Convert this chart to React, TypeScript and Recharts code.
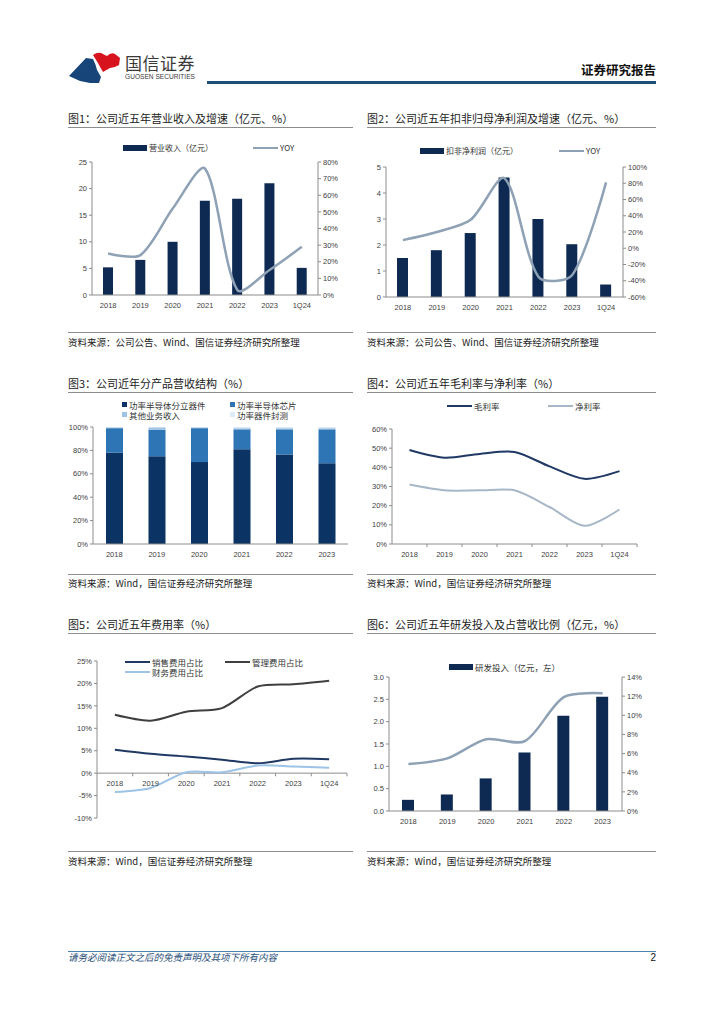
import React from "react";
import {
  Bar,
  BarChart,
  ComposedChart,
  Line,
  LineChart,
  ReferenceDot,
  ReferenceLine,
  XAxis,
  YAxis,
} from "recharts";

// ---- data ----
const years7 = ["2018", "2019", "2020", "2021", "2022", "2023", "1Q24"];
const years6 = ["2018", "2019", "2020", "2021", "2022", "2023"];

// fig 1
const revenue = [5.2, 6.6, 10.0, 17.7, 18.1, 21.0, 5.1];
const revenueYoy = [25, 24, 52, 76, 3, 15, 29];

// fig 2
const netProfit = [1.5, 1.8, 2.46, 4.6, 3.0, 2.03, 0.48];
const netProfitYoy = [10, 20, 35, 86, -35, -33, 81];

// fig 3
const discrete = [78, 75, 70, 81, 76.5, 69];
const chip = [21, 22.7, 29, 17, 21.5, 29];
const otherBiz = [0.7, 2, 0.7, 1, 1, 1];
const packaging = [0.3, 0.3, 0.3, 1, 1, 1];

// fig 4
const grossMargin = [49, 45, 47, 48, 40.5, 34, 38];
const netMargin = [31, 28, 28, 28, 19.3, 9.5, 18];

// fig 5
const sellingRate = [5.2, 4.3, 3.7, 3.0, 2.2, 3.2, 3.1];
const adminRate = [13.0, 11.7, 13.7, 14.5, 19.3, 19.8, 20.6];
const financeRate = [-4.2, -3.3, 0.2, 0.2, 1.7, 1.5, 1.2];

// fig 6
const rdSpend = [0.25, 0.37, 0.73, 1.31, 2.13, 2.56];
const rdRatio = [4.9, 5.5, 7.5, 7.3, 11.9, 12.3];

const fig1 = years7.map((name, i) => ({ name, revenue: revenue[i], yoy: revenueYoy[i] }));
const fig2 = years7.map((name, i) => ({ name, profit: netProfit[i], yoy: netProfitYoy[i] }));
const fig3 = years6.map((name, i) => ({
  name,
  discrete: discrete[i],
  chip: chip[i],
  other: otherBiz[i],
  pack: packaging[i],
}));
const fig4 = years7.map((name, i) => ({ i, name, gross: grossMargin[i], net: netMargin[i] }));
const fig5 = years7.map((name, i) => ({
  i,
  name,
  selling: sellingRate[i],
  admin: adminRate[i],
  finance: financeRate[i],
}));
const fig6 = years6.map((name, i) => ({ name, rd: rdSpend[i], ratio: rdRatio[i] }));

const bounds7 = years7.map((_, i) => i + 0.5);

// excel-like smoothed line: catmull-rom tangents, control arms scaled by
// neighbouring segment lengths so steep drops don't overshoot much
const SMOOTH = 0.28;
function ExcelCurve(this: any, context: any) {
  this._ctx = context;
}
ExcelCurve.prototype = {
  areaStart() {
    this._line = 0;
  },
  areaEnd() {
    this._line = NaN;
  },
  lineStart() {
    this._pts = [];
  },
  point(x: number, y: number) {
    this._pts.push([+x, +y]);
  },
  lineEnd() {
    const p: number[][] = this._pts;
    const c = this._ctx;
    const n = p.length;
    if (n) {
      if (this._line) c.lineTo(p[0][0], p[0][1]);
      else c.moveTo(p[0][0], p[0][1]);
      const dist = (a: number[], b: number[]) => Math.hypot(b[0] - a[0], b[1] - a[1]);
      for (let i = 0; i < n - 1; i++) {
        const p0 = p[i - 1] ?? p[i];
        const p1 = p[i];
        const p2 = p[i + 1];
        const p3 = p[i + 2] ?? p[i + 1];
        const d01 = dist(p0, p1);
        const d12 = dist(p1, p2);
        const d23 = dist(p2, p3);
        const f1 = i === 0 ? 0 : (SMOOTH * 2 * d12) / (d01 + d12);
        const f2 = i === n - 2 ? 0 : (SMOOTH * 2 * d12) / (d12 + d23);
        c.bezierCurveTo(
          p1[0] + ((p2[0] - p0[0]) * f1) / 2,
          p1[1] + ((p2[1] - p0[1]) * f1) / 2,
          p2[0] - ((p3[0] - p1[0]) * f2) / 2,
          p2[1] - ((p3[1] - p1[1]) * f2) / 2,
          p2[0],
          p2[1]
        );
      }
    }
    if (this._line || (this._line !== 0 && n === 1)) c.closePath();
    this._line = 1 - this._line;
  },
};
const smooth: any = (context: any) => new (ExcelCurve as any)(context);

// ---- style ----
const CJK = "'Noto Sans CJK SC', 'Noto Sans', sans-serif";
const NUM = "'Liberation Sans', Arial, 'Noto Sans CJK SC', sans-serif";
const navy = "#0e2a52";
const yoyGrey = "#8ea1b5";
const axisGrey = "#8c8c8c";
const tickText = { fontSize: 7.5, fill: "#404040", fontFamily: NUM };
const pct = (v: number) => `${v}%`;

function Frame(props: {
  x: number;
  w: number;
  titleY: number;
  lineY: number;
  srcLineY: number;
  srcY: number;
  title: string;
  source: string;
}) {
  const { x, w, titleY, lineY, srcLineY, srcY, title, source } = props;
  return (
    <>
      <div
        style={{
          position: "absolute",
          left: x,
          top: titleY - 8,
          lineHeight: "16px",
          fontSize: 11,
          fontFamily: CJK,
          color: "#222",
          whiteSpace: "nowrap",
        }}
      >
        {title}
      </div>
      <div style={{ position: "absolute", left: x, top: lineY, width: w, borderTop: "1.5px solid #8c8c8c" }} />
      <div style={{ position: "absolute", left: x, top: srcLineY, width: w, borderTop: "1.5px solid #8c8c8c" }} />
      <div
        style={{
          position: "absolute",
          left: x,
          top: srcY - 7,
          lineHeight: "14px",
          fontSize: 9.5,
          fontFamily: CJK,
          color: "#222",
          whiteSpace: "nowrap",
        }}
      >
        {source}
      </div>
    </>
  );
}

function Key(props: { x: number; y: number; kind: "bar" | "line" | "square"; color: string; label: string; size?: number }) {
  const { x, y, kind, color, label } = props;
  const fs = props.size ?? 8;
  let mark: React.ReactNode;
  let textX = x;
  if (kind === "bar") {
    mark = <div style={{ position: "absolute", left: x, top: y - 3, width: 24, height: 6, background: color }} />;
    textX = x + 26;
  } else if (kind === "line") {
    mark = <div style={{ position: "absolute", left: x, top: y - 1, width: 25, height: 2, background: color }} />;
    textX = x + 27;
  } else {
    mark = <div style={{ position: "absolute", left: x, top: y - 3, width: 5, height: 5, background: color }} />;
    textX = x + 7;
  }
  return (
    <>
      {mark}
      <div
        style={{
          position: "absolute",
          left: textX,
          top: y - 6,
          lineHeight: "12px",
          fontSize: fs,
          fontFamily: CJK,
          color: "#333",
          whiteSpace: "nowrap",
        }}
      >
        {label}
      </div>
    </>
  );
}

function Logo() {
  return (
    <svg style={{ position: "absolute", left: 66, top: 50 }} width={58} height={34} viewBox="0 0 58 34">
      <path d="M27 5 Q31 2 35 3 L41 6 Q45 2 49 4 L54 8 L53 15 Q48 18 44 18 L37 22 Q34 17 32 13 Z" fill="#d7141e" />
      <path d="M3 26 L20 8 L27 9 Q30 15 31 20 L35 27 L33 33 L24 33 L14 31 Z" fill="#17457a" />
    </svg>
  );
}

export default function App() {
  return (
    <div
      style={{
        position: "absolute",
        left: 0,
        top: 0,
        width: 724,
        height: 1024,
        background: "#fff",
        overflow: "hidden",
        fontFamily: NUM,
      }}
    >
      {/* header */}
      <Logo />
      <div
        style={{
          position: "absolute",
          left: 125,
          top: 52,
          fontSize: 17,
          lineHeight: "21px",
          fontFamily: CJK,
          color: "#3a3a3a",
          letterSpacing: 0.5,
        }}
      >
        国信证券
      </div>
      <div
        style={{
          position: "absolute",
          left: 125,
          top: 73,
          fontSize: 6.6,
          lineHeight: "8px",
          fontFamily: NUM,
          color: "#3a3a3a",
          whiteSpace: "nowrap",
        }}
      >
        GUOSEN SECURITIES
      </div>
      <div
        style={{
          position: "absolute",
          right: 68,
          top: 61,
          fontSize: 12.5,
          lineHeight: "18px",
          fontWeight: 700,
          fontFamily: CJK,
          color: "#111",
        }}
      >
        证券研究报告
      </div>
      <div style={{ position: "absolute", left: 207, top: 81, width: 449, height: 3, background: "#1f4e79" }} />

      {/* fig 1 */}
      <Frame
        x={68}
        w={285}
        titleY={118}
        lineY={127}
        srcLineY={332}
        srcY={342}
        title="图1：公司近五年营业收入及增速（亿元、%）"
        source="资料来源：公司公告、Wind、国信证券经济研究所整理"
      />
      <Key x={123} y={148} kind="bar" color={navy} label="营业收入（亿元）" />
      <Key x={253} y={148} kind="line" color={yoyGrey} label="YOY" />
      <div style={{ position: "absolute", left: 60, top: 140 }}>
        <ComposedChart width={300} height={180} data={fig1} margin={{ top: 22, right: 0, bottom: 0, left: 0 }}>
          <XAxis dataKey="name" height={25} interval={0} tick={tickText} tickLine={false} axisLine={{ stroke: axisGrey }} />
          <YAxis
            yAxisId="l"
            width={32}
            domain={[0, 25]}
            ticks={[0, 5, 10, 15, 20, 25]}
            tick={tickText}
            tickSize={3}
            tickMargin={2}
            axisLine={{ stroke: axisGrey }}
            tickLine={{ stroke: axisGrey }}
          />
          <YAxis
            yAxisId="r"
            orientation="right"
            width={42}
            domain={[0, 80]}
            ticks={[0, 10, 20, 30, 40, 50, 60, 70, 80]}
            tickFormatter={pct}
            tick={tickText}
            tickSize={3}
            tickMargin={2}
            axisLine={{ stroke: axisGrey }}
            tickLine={{ stroke: axisGrey }}
          />
          <Bar yAxisId="l" dataKey="revenue" fill={navy} barSize={10} isAnimationActive={false} />
          <Line yAxisId="r" type={smooth} dataKey="yoy" stroke={yoyGrey} strokeWidth={2.5} dot={false} isAnimationActive={false} />
        </ComposedChart>
      </div>

      {/* fig 2 */}
      <Frame
        x={367}
        w={289}
        titleY={118}
        lineY={127}
        srcLineY={332}
        srcY={342}
        title="图2：公司近五年扣非归母净利润及增速（亿元、%）"
        source="资料来源：公司公告、Wind、国信证券经济研究所整理"
      />
      <Key x={420} y={151} kind="bar" color={navy} label="扣非净利润（亿元）" />
      <Key x={559} y={151} kind="line" color={yoyGrey} label="YOY" />
      <div style={{ position: "absolute", left: 360, top: 140 }}>
        <ComposedChart width={300} height={182} data={fig2} margin={{ top: 27, right: 0, bottom: 0, left: 0 }}>
          <XAxis dataKey="name" height={25} interval={0} tick={tickText} tickLine={false} axisLine={{ stroke: axisGrey }} />
          <YAxis
            yAxisId="l"
            width={26}
            domain={[0, 5]}
            ticks={[0, 1, 2, 3, 4, 5]}
            tick={tickText}
            tickSize={3}
            tickMargin={2}
            axisLine={{ stroke: axisGrey }}
            tickLine={{ stroke: axisGrey }}
          />
          <YAxis
            yAxisId="r"
            orientation="right"
            width={37}
            domain={[-60, 100]}
            ticks={[-60, -40, -20, 0, 20, 40, 60, 80, 100]}
            tickFormatter={pct}
            tick={tickText}
            tickSize={3}
            tickMargin={2}
            axisLine={{ stroke: axisGrey }}
            tickLine={{ stroke: axisGrey }}
          />
          <Bar yAxisId="l" dataKey="profit" fill={navy} barSize={11} isAnimationActive={false} />
          <Line yAxisId="r" type={smooth} dataKey="yoy" stroke={yoyGrey} strokeWidth={2.5} dot={false} isAnimationActive={false} />
        </ComposedChart>
      </div>

      {/* fig 3 */}
      <Frame
        x={68}
        w={285}
        titleY={383}
        lineY={392}
        srcLineY={574}
        srcY={583}
        title="图3：公司近年分产品营收结构（%）"
        source="资料来源：Wind，国信证券经济研究所整理"
      />
      <Key x={122} y={405} kind="square" color="#0b3363" label="功率半导体分立器件" size={8.5} />
      <Key x={230} y={405} kind="square" color="#2e75b6" label="功率半导体芯片" size={8.5} />
      <Key x={122} y={415} kind="square" color="#9dc3e6" label="其他业务收入" size={8.5} />
      <Key x={230} y={415} kind="square" color="#deebf7" label="功率器件封测" size={8.5} />
      <div style={{ position: "absolute", left: 60, top: 420 }}>
        <BarChart width={300} height={150} data={fig3} margin={{ top: 7, right: 12, bottom: 0, left: 0 }}>
          <XAxis dataKey="name" height={26} interval={0} tick={tickText} tickLine={false} axisLine={{ stroke: axisGrey }} />
          <YAxis
            width={33}
            domain={[0, 100]}
            ticks={[0, 20, 40, 60, 80, 100]}
            tickFormatter={pct}
            tick={tickText}
            tickSize={3}
            tickMargin={2}
            axisLine={{ stroke: axisGrey }}
            tickLine={{ stroke: axisGrey }}
          />
          <Bar dataKey="discrete" stackId="a" fill="#0b3363" barSize={17} isAnimationActive={false} />
          <Bar dataKey="chip" stackId="a" fill="#2e75b6" barSize={17} isAnimationActive={false} />
          <Bar dataKey="other" stackId="a" fill="#9dc3e6" barSize={17} isAnimationActive={false} />
          <Bar dataKey="pack" stackId="a" fill="#deebf7" barSize={17} isAnimationActive={false} />
        </BarChart>
      </div>

      {/* fig 4 */}
      <Frame
        x={367}
        w={289}
        titleY={383}
        lineY={392}
        srcLineY={574}
        srcY={583}
        title="图4：公司近五年毛利率与净利率（%）"
        source="资料来源：Wind，国信证券经济研究所整理"
      />
      <Key x={447} y={406} kind="line" color="#1f3864" label="毛利率" size={8.5} />
      <Key x={548} y={406} kind="line" color="#a7b7c8" label="净利率" size={8.5} />
      <div style={{ position: "absolute", left: 360, top: 420 }}>
        <LineChart width={300} height={150} data={fig4} margin={{ top: 9, right: 23, bottom: 0, left: 0 }}>
          <XAxis
            type="number"
            dataKey="i"
            domain={[-0.5, 6.5]}
            ticks={[0, 1, 2, 3, 4, 5, 6]}
            tickFormatter={(v: number) => years7[v]}
            interval={0}
            height={26}
            tick={tickText}
            tickLine={false}
            axisLine={{ stroke: axisGrey }}
          />
          <YAxis
            width={32}
            domain={[0, 60]}
            ticks={[0, 10, 20, 30, 40, 50, 60]}
            tickFormatter={pct}
            tick={tickText}
            tickSize={3}
            tickMargin={2}
            axisLine={{ stroke: axisGrey }}
            tickLine={{ stroke: axisGrey }}
          />
          {bounds7.map((b) => (
            <ReferenceLine
              key={b}
              segment={[
                { x: b, y: 0 },
                { x: b, y: -1.6 },
              ]}
              stroke={axisGrey}
              ifOverflow="visible"
            />
          ))}
          <Line type={smooth} dataKey="gross" stroke="#1f3864" strokeWidth={2} dot={false} isAnimationActive={false} />
          <Line type={smooth} dataKey="net" stroke="#a7b7c8" strokeWidth={2} dot={false} isAnimationActive={false} />
        </LineChart>
      </div>

      {/* fig 5 */}
      <Frame
        x={68}
        w={285}
        titleY={624}
        lineY={633}
        srcLineY={851}
        srcY={861}
        title="图5：公司近五年费用率（%）"
        source="资料来源：Wind，国信证券经济研究所整理"
      />
      <div style={{ position: "absolute", left: 60, top: 650 }}>
        <LineChart width={300} height={180} data={fig5} margin={{ top: 11, right: 13, bottom: 12, left: 0 }}>
          <XAxis type="number" dataKey="i" domain={[-0.5, 6.5]} hide />
          <YAxis
            width={37}
            domain={[-10, 25]}
            ticks={[-10, -5, 0, 5, 10, 15, 20, 25]}
            tickFormatter={pct}
            tick={tickText}
            tickSize={3}
            tickMargin={2}
            axisLine={{ stroke: axisGrey }}
            tickLine={{ stroke: axisGrey }}
          />
          <ReferenceLine y={0} stroke={axisGrey} />
          {bounds7.map((b) => (
            <ReferenceLine
              key={b}
              segment={[
                { x: b, y: 0 },
                { x: b, y: -0.7 },
              ]}
              stroke={axisGrey}
            />
          ))}
          {years7.map((c, i) => (
            <ReferenceDot
              key={c}
              x={i}
              y={-2.3}
              r={1}
              fill="none"
              stroke="none"
              label={{ value: c, position: "center", fontSize: 7.5, fill: "#404040", fontFamily: NUM }}
            />
          ))}
          <Line type={smooth} dataKey="selling" stroke="#203864" strokeWidth={2} dot={false} isAnimationActive={false} />
          <Line type={smooth} dataKey="admin" stroke="#3f3f3f" strokeWidth={2} dot={false} isAnimationActive={false} />
          <Line type={smooth} dataKey="finance" stroke="#9dc3e6" strokeWidth={2} dot={false} isAnimationActive={false} />
        </LineChart>
      </div>
      <Key x={125} y={662} kind="line" color="#203864" label="销售费用占比" size={8.5} />
      <Key x={225} y={662} kind="line" color="#3f3f3f" label="管理费用占比" size={8.5} />
      <Key x={125} y={672} kind="line" color="#9dc3e6" label="财务费用占比" size={8.5} />

      {/* fig 6 */}
      <Frame
        x={367}
        w={289}
        titleY={624}
        lineY={633}
        srcLineY={851}
        srcY={861}
        title="图6：公司近五年研发投入及占营收比例（亿元，%）"
        source="资料来源：Wind，国信证券经济研究所整理"
      />
      <Key x={449} y={667} kind="bar" color={navy} label="研发投入（亿元，左）" size={8.5} />
      <div style={{ position: "absolute", left: 360, top: 660 }}>
        <ComposedChart width={300} height={176} data={fig6} margin={{ top: 17, right: 0, bottom: 0, left: 0 }}>
          <XAxis dataKey="name" height={25} interval={0} tick={tickText} tickLine={false} axisLine={{ stroke: axisGrey }} />
          <YAxis
            yAxisId="l"
            width={29}
            domain={[0, 3]}
            ticks={[0, 0.5, 1, 1.5, 2, 2.5, 3]}
            tickFormatter={(v: number) => v.toFixed(1)}
            tick={tickText}
            tickSize={3}
            tickMargin={2}
            axisLine={{ stroke: axisGrey }}
            tickLine={{ stroke: axisGrey }}
          />
          <YAxis
            yAxisId="r"
            orientation="right"
            width={38}
            domain={[0, 14]}
            ticks={[0, 2, 4, 6, 8, 10, 12, 14]}
            tickFormatter={pct}
            tick={tickText}
            tickSize={3}
            tickMargin={2}
            axisLine={{ stroke: axisGrey }}
            tickLine={{ stroke: axisGrey }}
          />
          <Bar yAxisId="l" dataKey="rd" fill={navy} barSize={12} isAnimationActive={false} />
          <Line yAxisId="r" type={smooth} dataKey="ratio" stroke={yoyGrey} strokeWidth={2.5} dot={false} isAnimationActive={false} />
        </ComposedChart>
      </div>

      {/* footer */}
      <div style={{ position: "absolute", left: 68, top: 951, width: 588, borderTop: "1px solid #4f7fab" }} />
      <div
        style={{
          position: "absolute",
          left: 68,
          top: 951,
          lineHeight: "13px",
          fontSize: 9.5,
          fontStyle: "italic",
          fontFamily: CJK,
          color: "#1f4e79",
          whiteSpace: "nowrap",
        }}
      >
        请务必阅读正文之后的免责声明及其项下所有内容
      </div>
      <div
        style={{
          position: "absolute",
          right: 68,
          top: 951,
          lineHeight: "13px",
          fontSize: 10,
          fontFamily: NUM,
          color: "#111",
        }}
      >
        2
      </div>
    </div>
  );
}
